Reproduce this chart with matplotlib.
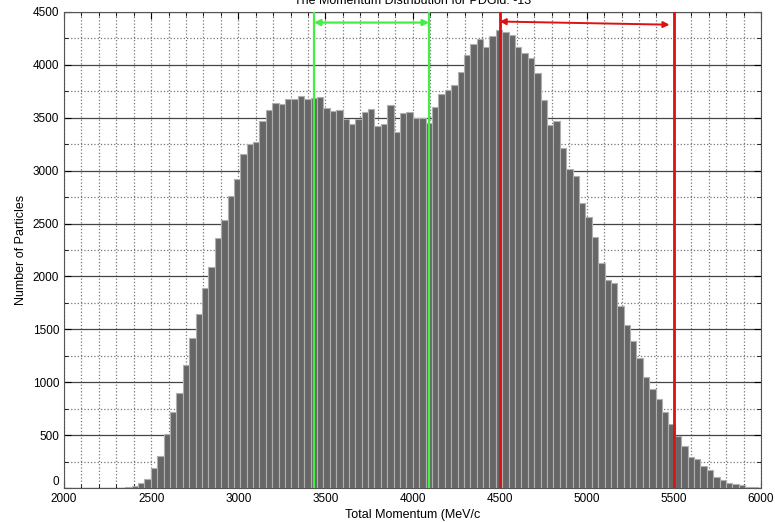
import matplotlib
matplotlib.use('Agg')
import matplotlib.pyplot as plt
from matplotlib.ticker import MultipleLocator, FuncFormatter
import numpy as np

plt.rcParams['font.family'] = ['Liberation Sans', 'DejaVu Sans']

# histogram counts, 100 bins
counts = [4, 12, 22, 47, 88, 188, 307, 515, 723, 898,
          1161, 1418, 1645, 1891, 2089, 2360, 2537, 2764, 2918, 3158,
          3255, 3268, 3469, 3570, 3643, 3630, 3680, 3674, 3703, 3680,
          3687, 3700, 3592, 3564, 3570, 3491, 3441, 3488, 3557, 3580,
          3422, 3438, 3624, 3365, 3548, 3555, 3498, 3498, 3450, 3599,
          3722, 3760, 3810, 3933, 4096, 4194, 4248, 4172, 4276, 4333,
          4314, 4282, 4172, 4109, 4065, 3920, 3668, 3429, 3472, 3217,
          3013, 2950, 2694, 2565, 2370, 2124, 1963, 1938, 1721, 1541,
          1393, 1226, 1046, 933, 843, 720, 606, 488, 400, 290,
          270, 210, 166, 107, 76, 47, 35, 26, 12, 5]
p_min = 2315
p_max = 5982

green_cuts = [3435, 4095]
red_cuts = [4500, 5500]
arrow_level = 4400

title = 'The Momentum Distribution for PDGid: -13'
xlabel = 'Total Momentum (MeV/c'
ylabel = 'Number of Particles'

edges = np.linspace(p_min, p_max, len(counts) + 1)

fig = plt.figure(figsize=(7.75, 5.22), dpi=100)
ax = fig.add_axes([64 / 775, 1 - 488 / 522, 697 / 775, 476 / 522])

ax.bar(edges[:-1], counts, width=np.diff(edges), align='edge',
       color='#666666', edgecolor='#b0b0b0', linewidth=0.8, zorder=2)

ax.set_xlim(2000, 6000)
ax.set_ylim(0, 4500)
ax.xaxis.set_major_locator(MultipleLocator(500))
ax.xaxis.set_minor_locator(MultipleLocator(100))
ax.yaxis.set_major_locator(MultipleLocator(500))
ax.yaxis.set_minor_locator(MultipleLocator(250))
# the "0" label is drawn by hand below, a bit higher than the others
ax.yaxis.set_major_formatter(FuncFormatter(lambda v, pos: '' if v == 0 else '%d' % v))

# matlab-ish grid: solid horizontal majors, dotted everything else
ax.set_axisbelow(True)
ax.grid(True, which='major', axis='y', color='#444444', linestyle='-', linewidth=0.9)
ax.grid(True, which='minor', axis='y', color='#777777', linestyle=':', linewidth=0.9)
ax.grid(True, which='both', axis='x', color='#777777', linestyle=':', linewidth=0.9)

ax.tick_params(which='both', direction='in', top=True, right=True, labelsize=8.5)
ax.tick_params(which='major', length=5)
ax.tick_params(which='minor', length=3)
for s in ax.spines.values():
    s.set_color('#555555')

ax.annotate('0', xy=(0, 0), xycoords='axes fraction', xytext=(-3.5, 0),
            textcoords='offset points', ha='right', va='bottom', fontsize=8.5)

for x in green_cuts:
    ax.axvline(x, color='#44ee44', linewidth=1.6, zorder=3)
for x in red_cuts:
    ax.axvline(x, color='#dd1111', linewidth=2.0, zorder=3)

ax.annotate('', xy=(green_cuts[0], arrow_level), xytext=(green_cuts[1], arrow_level),
            arrowprops=dict(arrowstyle='<|-|>', color='#44ee44', lw=1.6,
                            shrinkA=0, shrinkB=0, mutation_scale=9), zorder=4)
ax.annotate('', xy=(red_cuts[0], arrow_level + 10), xytext=(red_cuts[1] - 25, arrow_level - 20),
            arrowprops=dict(arrowstyle='<|-|>', color='#dd1111', lw=1.4,
                            shrinkA=0, shrinkB=0, mutation_scale=9), zorder=4)

ax.set_xlabel(xlabel, fontsize=9, labelpad=3)
ax.set_ylabel(ylabel, fontsize=9, labelpad=4)
fig.text(0.532, 1 - 3.5 / 522, title, ha='center', va='baseline', fontsize=9)

fig.savefig('out.png', dpi=100)
